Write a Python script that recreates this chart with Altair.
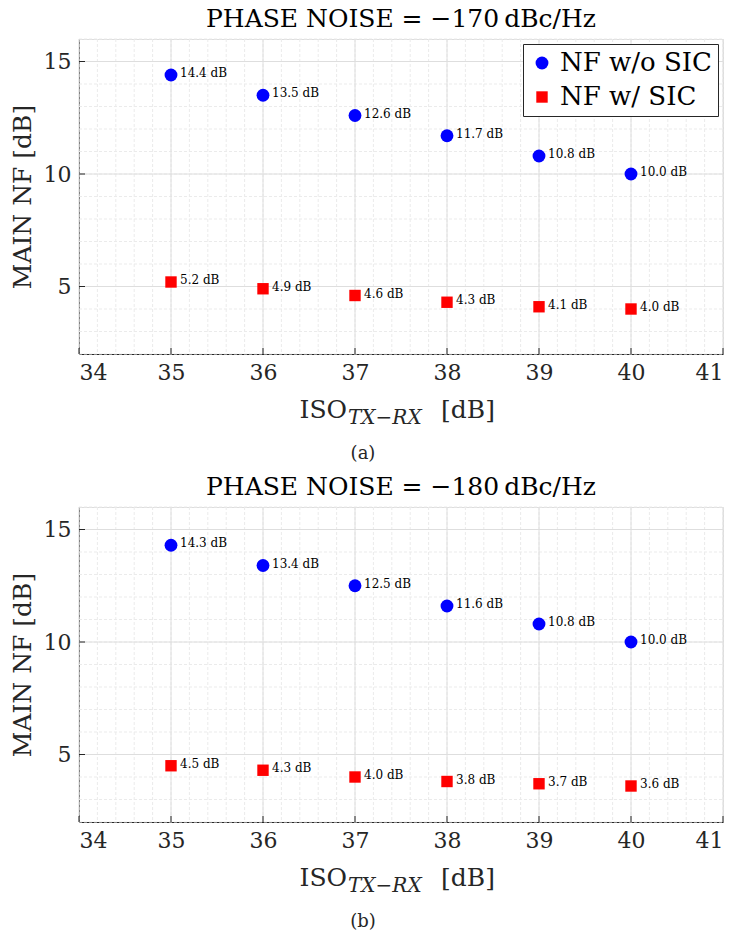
import altair as alt
import pandas as pd

iso = [35, 36, 37, 38, 39, 40]
nf_wo_a = [14.4, 13.5, 12.6, 11.7, 10.8, 10.0]
nf_w_a = [5.2, 4.9, 4.6, 4.3, 4.1, 4.0]
nf_wo_b = [14.3, 13.4, 12.5, 11.6, 10.8, 10.0]
nf_w_b = [4.5, 4.3, 4.0, 3.8, 3.7, 3.6]
series = ["NF w/o SIC", "NF w/ SIC"]
x_ticks = [34, 35, 36, 37, 38, 39, 40, 41]
y_ticks = [5, 10, 15]
x_minor = [round(34 + 0.2 * i, 1) for i in range(36)]
y_minor = list(range(2, 17))
titles = ["PHASE NOISE = \u2212170\u2009dBc/Hz", "PHASE NOISE = \u2212180\u2009dBc/Hz"]
captions = ["(a)", "(b)"]

W, H = 644, 315
FONT = "DejaVu Serif"
AX = "#262626"


def panel(wo, w, title, caption):
    df = pd.DataFrame({
        "iso": iso * 2,
        "nf": wo + w,
        "series": [series[0]] * len(wo) + [series[1]] * len(w),
    })
    df["label"] = df["nf"].map(lambda v: f"{v:.1f} dB")
    xs = alt.Scale(domain=[34, 41], nice=False, zero=False)
    ys = alt.Scale(domain=[2, 16], nice=False, zero=False)

    xminor = alt.Chart(pd.DataFrame({"v": x_minor})).mark_rule(
        color="#ebebeb", strokeDash=[3, 2], strokeWidth=1
    ).encode(x=alt.X("v:Q", scale=xs), y=alt.value(0), y2=alt.value(H))
    yminor = alt.Chart(pd.DataFrame({"v": y_minor})).mark_rule(
        color="#ebebeb", strokeDash=[3, 2], strokeWidth=1
    ).encode(y=alt.Y("v:Q", scale=ys), x=alt.value(0), x2=alt.value(W))
    xmajor = alt.Chart(pd.DataFrame({"v": x_ticks})).mark_rule(
        color="#dedede", strokeWidth=1
    ).encode(x=alt.X("v:Q", scale=xs), y=alt.value(0), y2=alt.value(H))
    ymajor = alt.Chart(pd.DataFrame({"v": y_ticks})).mark_rule(
        color="#dedede", strokeWidth=1
    ).encode(y=alt.Y("v:Q", scale=ys), x=alt.value(0), x2=alt.value(W))

    xtick = alt.Chart(pd.DataFrame({"v": x_ticks})).mark_rule(
        color=AX, strokeWidth=1
    ).encode(x=alt.X("v:Q", scale=xs), y=alt.value(H), y2=alt.value(H - 6))
    ytick = alt.Chart(pd.DataFrame({"v": y_ticks})).mark_rule(
        color=AX, strokeWidth=1
    ).encode(y=alt.Y("v:Q", scale=ys), x=alt.value(0), x2=alt.value(6))

    color = alt.Color(
        "series:N",
        scale=alt.Scale(domain=series, range=["#0000ff", "#ff0000"]),
        legend=alt.Legend(
            title=None, orient="top-right", offset=5,
            labelFont=FONT, labelFontSize=26, labelColor="#000000",
            symbolSize=160, symbolStrokeWidth=0, symbolOpacity=1,
            strokeColor=AX, fillColor="#ffffff", padding=6,
            rowPadding=8, labelOffset=5, labelLimit=400,
            cornerRadius=0,
        ),
    )
    shape = alt.Shape(
        "series:N",
        scale=alt.Scale(domain=series, range=["circle", "square"]),
        legend=alt.Legend(title=None),
    )
    size = alt.Size(
        "series:N",
        scale=alt.Scale(domain=series, range=[165, 130]),
        legend=None,
    )

    pts = alt.Chart(df).mark_point(filled=True, opacity=1, strokeWidth=0).encode(
        x=alt.X("iso:Q", scale=xs, axis=alt.Axis(
            values=x_ticks, format="d", title=None, grid=False,
            labelFont=FONT, labelFontSize=22, labelColor=AX, labelPadding=8,
            tickSize=0, domainColor=AX, domainWidth=1,
        )),
        y=alt.Y("nf:Q", scale=ys, axis=alt.Axis(
            values=y_ticks, format="d", title="MAIN NF [dB]", grid=False,
            labelFont=FONT, labelFontSize=22, labelColor=AX, labelPadding=8,
            tickSize=0, domainColor=AX, domainWidth=1,
            titleFont=FONT, titleFontSize=25, titleFontWeight="normal",
            titleColor=AX, titlePadding=8,
        )),
        color=color,
        shape=shape,
        size=size,
    )
    labels = alt.Chart(df).mark_text(
        align="left", baseline="middle", dx=9, dy=-2,
        font=FONT, fontSize=12, color="#000000",
    ).encode(
        x=alt.X("iso:Q", scale=xs),
        y=alt.Y("nf:Q", scale=ys),
        text="label:N",
    )

    tstyle = dict(font=FONT, color=AX, baseline="alphabetic")
    iso_t = alt.Chart(pd.DataFrame({"t": ["ISO"]})).mark_text(
        align="right", fontSize=25, **tstyle
    ).encode(x=alt.value(268), y=alt.value(379), text="t:N")
    sub_t = alt.Chart(pd.DataFrame({"t": ["TX\u2212RX"]})).mark_text(
        align="left", fontSize=20, fontStyle="italic", **tstyle
    ).encode(x=alt.value(269), y=alt.value(385), text="t:N")
    db_t = alt.Chart(pd.DataFrame({"t": ["[dB]"]})).mark_text(
        align="left", fontSize=25, **tstyle
    ).encode(x=alt.value(362), y=alt.value(379), text="t:N")
    cap_t = alt.Chart(pd.DataFrame({"t": [caption]})).mark_text(
        align="center", fontSize=18, **tstyle
    ).encode(x=alt.value(284), y=alt.value(420), text="t:N")

    return alt.layer(
        xminor, yminor, xmajor, ymajor, xtick, ytick, pts, labels,
        iso_t, sub_t, db_t, cap_t,
    ).properties(
        width=W, height=H,
        title=alt.TitleParams(
            text=title, font=FONT, fontSize=25, fontWeight="normal",
            color="#000000", anchor="middle", offset=7,
        ),
    )


top = panel(nf_wo_a, nf_w_a, titles[0], captions[0])
bot = panel(nf_wo_b, nf_w_b, titles[1], captions[1])

chart = alt.vconcat(top, bot, spacing=10).properties(
    padding={"left": 9, "top": 6, "right": 4, "bottom": 4}
).configure_view(stroke=None).configure(
    background="#ffffff", font=FONT
).configure_axis(
    labelFont=FONT, titleFont=FONT
).configure_legend(
    labelFont=FONT
).configure_title(
    font=FONT
)

chart.save("out.html", embed_options={"renderer": "svg", "actions": False})
